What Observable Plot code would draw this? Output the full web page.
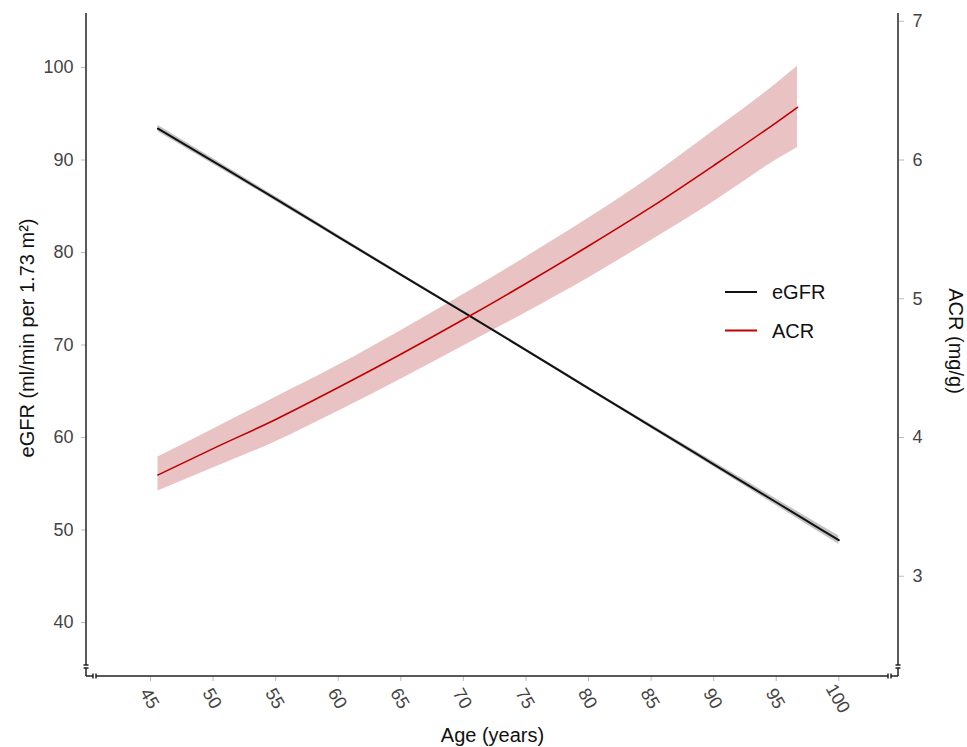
<!DOCTYPE html>
<html><head><meta charset="utf-8">
<script src="https://cdn.jsdelivr.net/npm/d3@7"></script>
<script src="https://cdn.jsdelivr.net/npm/@observablehq/plot@0.6"></script>
<style>body{margin:0;background:#fff;}</style>
</head><body><div id="chart"></div>
<script>
// eGFR (left axis, ml/min per 1.73 m²)
const egfrAges = [45.6, 50, 55, 60, 65, 70, 75, 80, 85, 90, 95, 100];
const egfr     = [93.4, 89.85, 85.8, 81.7, 77.6, 73.55, 69.45, 65.3, 61.2, 57.1, 53.0, 48.9];
const egfrLo   = [93.05, 89.55, 85.55, 81.5, 77.43, 73.4, 69.3, 65.13, 61.0, 56.83, 52.65, 48.45];
const egfrHi   = [93.75, 90.15, 86.05, 81.9, 77.77, 73.7, 69.6, 65.47, 61.4, 57.37, 53.35, 49.35];
// ACR (right axis, mg/g)
const acrAges  = [45.6, 50, 55, 60, 65, 70, 75, 80, 85, 90, 95, 96.7];
const acr      = [3.73, 3.92, 4.13, 4.36, 4.60, 4.85, 5.11, 5.38, 5.66, 5.96, 6.27, 6.38];
const acrLo    = [3.615, 3.78, 3.97, 4.19, 4.42, 4.66, 4.90, 5.15, 5.42, 5.70, 6.00, 6.09];
const acrHi    = [3.86, 4.06, 4.29, 4.52, 4.77, 5.03, 5.30, 5.58, 5.88, 6.21, 6.55, 6.675];
// ticks
const xTicks = [45, 50, 55, 60, 65, 70, 75, 80, 85, 90, 95, 100];
const yTicksLeft = [40, 50, 60, 70, 80, 90, 100];
const yTicksRight = [3, 4, 5, 6, 7];
const seriesNames = ["eGFR", "ACR"];
const seriesColors = ["#111111", "#c00000"];

// secondary axis mapping: ACR -> eGFR scale
const toLeft = a => 60 + 15 * (a - 4);
const fromLeft = v => 4 + (v - 60) / 15;

const egfrData = egfrAges.map((x, i) => ({x, y: egfr[i], lo: egfrLo[i], hi: egfrHi[i]}));
const acrData = acrAges.map((x, i) => ({x, y: toLeft(acr[i]), lo: toLeft(acrLo[i]), hi: toLeft(acrHi[i])}));

const W = 967, H = 747, mL = 86, mR = 69, mT = 13, mB = 71;
const FONT = "'Liberation Sans', Arial, sans-serif";

const plot = Plot.plot({
  width: W, height: H, marginLeft: mL, marginRight: mR, marginTop: mT, marginBottom: mB,
  style: {fontFamily: FONT, background: "#fff", overflow: "visible"},
  x: {domain: [39.886, 104.77]},
  y: {domain: [34.162, 105.838]},
  marks: [
    Plot.areaY(acrData, {x: "x", y1: "lo", y2: "hi", fill: "#e9c2c3", curve: "monotone-x"}),
    Plot.areaY(egfrData, {x: "x", y1: "lo", y2: "hi", fill: "#c2c2c2", curve: "monotone-x"}),
    Plot.lineY(egfrData, {x: "x", y: "y", stroke: seriesColors[0], strokeWidth: 2, curve: "monotone-x"}),
    Plot.lineY(acrData, {x: "x", y: "y", stroke: seriesColors[1], strokeWidth: 1.6, curve: "monotone-x"}),
    Plot.axisY(yTicksLeft, {anchor: "left", tickSize: 5, tickPadding: 8, stroke: "#bbb", fill: "#444", fontSize: 18, label: null}),
    Plot.axisY(yTicksRight.map(toLeft), {anchor: "right", tickSize: 5, tickPadding: 9, stroke: "#bbb", fill: "#444", fontSize: 18, label: null,
      tickFormat: d => String(Math.round(fromLeft(d)))}),
    Plot.axisX(xTicks, {anchor: "bottom", tickSize: 5, stroke: "#bbb", tickFormat: () => "", label: null}),
    Plot.text(xTicks, {x: d => d, text: d => String(d), frameAnchor: "bottom", textAnchor: "middle", dy: 25, dx: -6, rotate: 60, fontSize: 18, fill: "#444"}),
    Plot.text(["eGFR (ml/min per 1.73 m²)"], {text: d => d, frameAnchor: "left", textAnchor: "middle", dx: -59, dy: -7, rotate: -90, fontSize: 20, fill: "#111"}),
    Plot.text(["ACR (mg/g)"], {text: d => d, frameAnchor: "right", textAnchor: "middle", dx: 57, dy: -4, rotate: 90, fontSize: 20, fill: "#111"}),
    Plot.text(["Age (years)"], {text: d => d, frameAnchor: "bottom", textAnchor: "middle", dy: 65, fontSize: 20, fill: "#111"})
  ]
});
document.getElementById("chart").appendChild(plot);

// bracket-style axis lines and legend (decoration)
const svg = d3.select(plot);
const xL = mL, xR = W - mR, yT = mT, yB = H - mB;
const g = svg.append("g").attr("stroke", "#222").attr("stroke-width", 1.5).attr("fill", "none");
const seg = (x1, y1, x2, y2) => g.append("line").attr("x1", x1).attr("y1", y1).attr("x2", x2).attr("y2", y2);
// left
seg(xL, yT, xL, yB - 11);
seg(xL - 2.5, yB - 11, xL + 2.5, yB - 11);
seg(xL - 2.5, yB - 8, xL + 2.5, yB - 8);
seg(xL, yB - 8, xL, yB);
// bottom
seg(xL, yB, xL + 7, yB);
seg(xL + 7, yB - 2.5, xL + 7, yB + 2.5);
seg(xL + 10, yB - 2.5, xL + 10, yB + 2.5);
seg(xL + 10, yB, xR - 10, yB);
seg(xR - 10, yB - 2.5, xR - 10, yB + 2.5);
seg(xR - 7, yB - 2.5, xR - 7, yB + 2.5);
seg(xR - 7, yB, xR, yB);
// right
seg(xR, yB, xR, yB - 8);
seg(xR - 2.5, yB - 8, xR + 2.5, yB - 8);
seg(xR - 2.5, yB - 11, xR + 2.5, yB - 11);
seg(xR, yB - 11, xR, yT);

// legend
const leg = svg.append("g").attr("font-family", FONT).attr("font-size", 20).attr("text-anchor", "start");
seriesNames.forEach((name, i) => {
  const y = 292 + i * 38.5;
  leg.append("line").attr("x1", 725).attr("x2", 757).attr("y1", y).attr("y2", y)
    .attr("stroke", seriesColors[i]).attr("stroke-width", 2);
  leg.append("text").attr("x", 772).attr("y", y).attr("dy", "0.35em").attr("fill", "#111").text(name);
});
</script>
</body></html>
